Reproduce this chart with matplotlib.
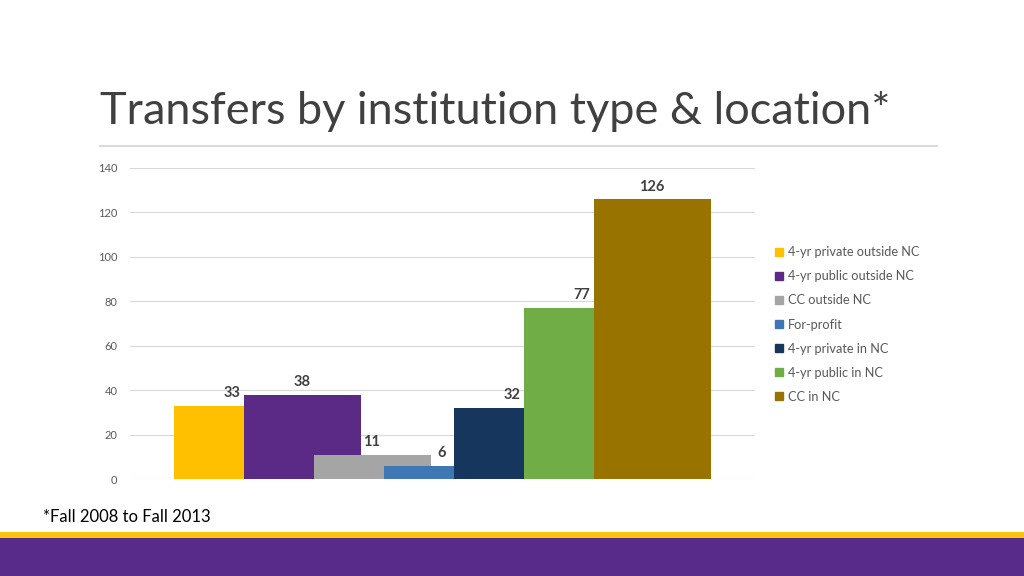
import numpy as np
import matplotlib.pyplot as plt
from matplotlib.patches import Rectangle
from matplotlib.lines import Line2D

# --- data ---
series = ['4-yr private outside NC', '4-yr public outside NC', 'CC outside NC',
          'For-profit', '4-yr private in NC', '4-yr public in NC', 'CC in NC']
values = [33, 38, 11, 6, 32, 77, 126]
colors = ['#FFC000', '#5B2A86', '#A5A5A5', '#3F77B5', '#17365D', '#70AD47', '#997300']
yticks = [0, 20, 40, 60, 80, 100, 120, 140]

plt.rcParams['font.family'] = ['Lato', 'DejaVu Sans']
fig = plt.figure(figsize=(10.24, 5.76), dpi=100)

# title + rule under it
fig.text(100 / 1024, 1 - 112 / 576, 'Transfers by institution type & location*',
         fontsize=32.5, color='#404040', fontweight='normal', va='center', ha='left')
fig.add_artist(Line2D([100 / 1024, 937 / 1024], [1 - 146 / 576] * 2,
                      color='#D9D9D9', linewidth=1.5))

# chart area
ax = fig.add_axes([130 / 1024, 1 - 479 / 576, 625 / 1024, 311 / 576])
pos = np.arange(len(values))
width = 117 / 70
for i, (v, c) in enumerate(zip(values, colors)):
    ax.bar(pos[i], v, width=width, color=c, zorder=2 + i, label=series[i])
    ax.text(pos[i], v + 2.5, str(v), ha='center', va='bottom', fontsize=10.5,
            fontweight='bold', color='#404040', zorder=20)

ax.set_xlim((130 - 232) / 70, (755 - 232) / 70)
ax.set_ylim(0, 140)
ax.set_yticks(yticks)
ax.set_xticks([])
ax.yaxis.grid(True, color='#D9D9D9', linewidth=0.8)
ax.set_axisbelow(True)
for s in ax.spines.values():
    s.set_visible(False)
ax.tick_params(axis='y', length=0, labelsize=8, labelcolor='#595959', pad=9)

# legend
handles = [Rectangle((0, 0), 1, 1, color=c) for c in colors]
fig.legend(handles, series, loc='upper left', bbox_to_anchor=(770 / 1024, 1 - 241 / 576),
           frameon=False, fontsize=9.2, labelcolor='#595959', handlelength=0.6,
           handleheight=0.6, handletextpad=0.4, labelspacing=0.95, borderaxespad=0)

# footnote
fig.text(43 / 1024, 1 - 517 / 576, '*Fall 2008 to Fall 2013', fontsize=12,
         color='#000000', va='center', ha='left')

# bottom bands
fig.add_artist(Rectangle((0, 1 - 538 / 576), 1, 6 / 576, transform=fig.transFigure,
                         color='#FFC20E', linewidth=0))
fig.add_artist(Rectangle((0, 0), 1, 38 / 576, transform=fig.transFigure,
                         color='#582A8A', linewidth=0))

fig.savefig('out.png', dpi=100)
